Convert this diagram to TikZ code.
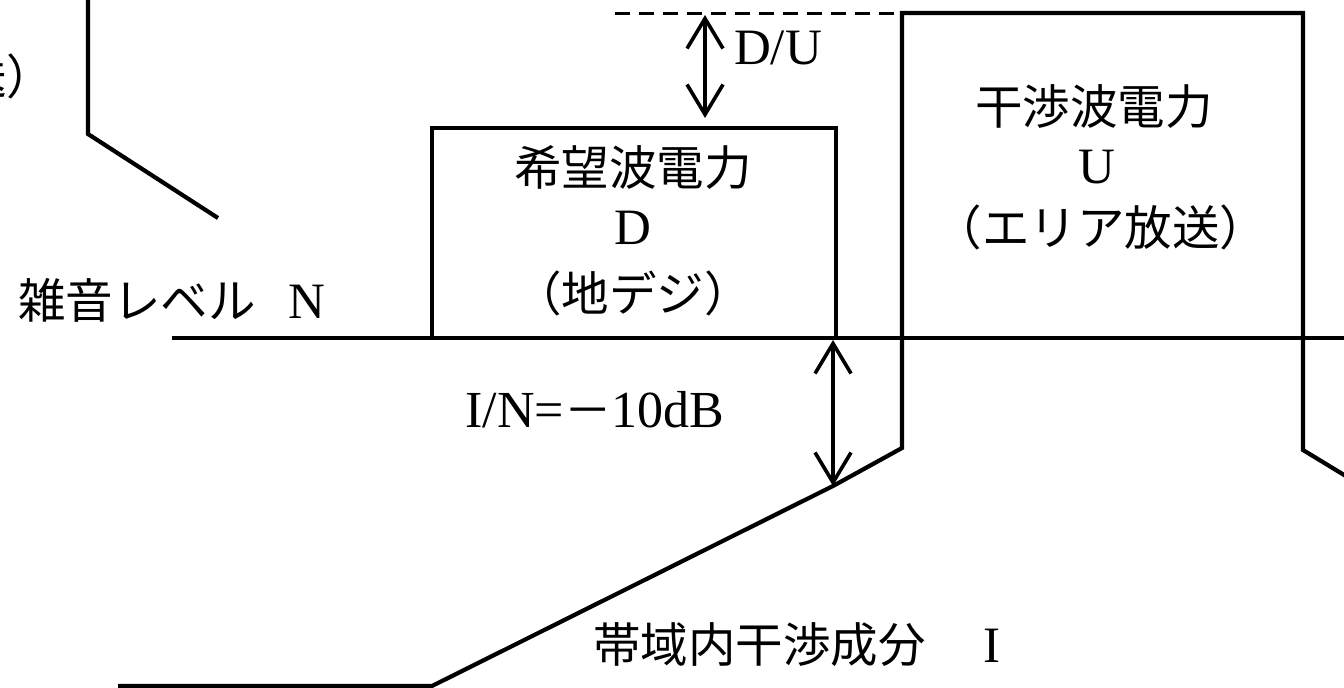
\documentclass[tikz,border=0pt]{standalone}
\usepackage{fontspec}
\setmainfont{Liberation Serif}
\newfontfamily\jp{Noto Sans CJK JP}
\usetikzlibrary{arrows.meta}
\begin{document}
\begin{tikzpicture}[x=1pt,y=-1pt,
  line join=miter,
  mainline/.style={line width=4.2pt},
  boxline/.style={line width=3.4pt},
  jptext/.style={font=\jp\fontsize{47.5}{50}\selectfont, inner sep=0pt},
  lattext/.style={font=\fontsize{51}{55}\selectfont, inner sep=0pt},
  >={Straight Barb[length=30pt,width=36pt,line width=3.6pt]},
  dimarrow/.style={line width=3.6pt, <->},
  dashline/.style={line width=3pt, dash pattern=on 15pt off 9pt}]
\useasboundingbox (0,0) rectangle (1344,688);
\clip (0,0) rectangle (1344,688);
\fill[white] (0,0) rectangle (1344,688);

% coordinates
\coordinate (lt) at (88,-10);
\coordinate (lc) at (88,134);
\coordinate (ld) at (218,218);
\coordinate (nl) at (172,338);
\coordinate (nr) at (1354,338);
\coordinate (ua) at (902,448);
\coordinate (utl) at (902,13);
\coordinate (utr) at (1303,13);
\coordinate (ub) at (1303,450);
\coordinate (uc) at (1354,481);
\coordinate (ia) at (833,486);
\coordinate (ib) at (432,686);
\coordinate (ic) at (118,686);
\coordinate (dash0) at (615,13);
\coordinate (dash1) at (900,13);
\coordinate (du0) at (705,15);
\coordinate (du1) at (705,118);
\coordinate (in0) at (833,340);
\coordinate (dbl) at (432,338);
\coordinate (dtl) at (432,128);
\coordinate (dtr) at (836,128);
\coordinate (dbr) at (836,338);

% left partial shape
\draw[mainline] (lt) -- (lc) -- (ld);
\node[jptext] (leftlbl) at (-112,76) {（エリア放送）};

% noise level line
\draw[mainline] (nl) -- (nr);

% desired wave box
\draw[boxline] (dbl) -- (dtl) -- (dtr) -- (dbr);

% interference wave shape
\draw[mainline] (uc) -- (ub) -- (utr) -- (utl) -- (ua) -- (ia) -- (ib) -- (ic);

% dashed reference
\draw[dashline] (dash0) -- (dash1);

% dimension arrows
\draw[dimarrow] (du0) -- (du1);
\draw[dimarrow] (in0) -- (ia);

% labels
\node[lattext] (dulbl) at (778,48) {D/U};
\node[jptext] (u1) at (1094,107) {干渉波電力};
\node[lattext] (u2) at (1097,167) {U};
\node[jptext] (u3) at (1101,227) {（エリア放送）};
\node[jptext] (d1) at (633,167) {希望波電力};
\node[lattext] (d2) at (633,228) {D};
\node[jptext] (d3) at (633,293) {（地デジ）};
\node[anchor=west, inner sep=0pt] (nlbl) at (18,300) {{\jp\fontsize{47.5}{50}\selectfont 雑音レベル}\hspace{33pt}\fontsize{51}{55}\selectfont N};
\node[inner sep=0pt] (inlbl) at (595,410) {\fontsize{52}{56}\selectfont I/N={\jp\fontsize{47.5}{50}\selectfont －}10dB};
\node[anchor=west, inner sep=0pt] (ilbl) at (593,645) {{\jp\fontsize{47.5}{50}\selectfont 帯域内干渉成分　}\hspace{10pt}\fontsize{51}{55}\selectfont I};
\end{tikzpicture}
\end{document}
